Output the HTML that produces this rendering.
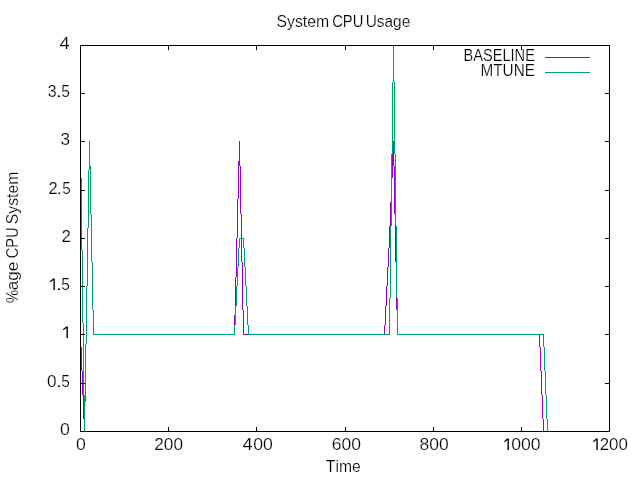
<!DOCTYPE html>
<html><head><meta charset="utf-8"><title>System CPU Usage</title>
<style>
html,body{margin:0;padding:0;background:#fff;overflow:hidden}
svg{display:block}
.t{filter:grayscale(1)}
.g1{fill:#000}
text{font-family:"Liberation Sans",sans-serif;font-size:16px;font-kerning:none;fill:#000;stroke:#fff;stroke-width:0.2px}
</style></head><body>
<svg width="640" height="480" viewBox="0 0 640 480">
<rect x="0" y="0" width="640" height="480" fill="#fff"/>
<g shape-rendering="crispEdges">
<path fill="#9400d3" d="M93 334h142v1h-142zM243 334h142v1h-142zM397 334h143v1h-143zM394 166h1v48h-1zM83 395h1v24h-1zM395 214h1v48h-1zM85 344h1v58h-1zM86 286h1v58h-1zM235 277h1v38h-1zM84 402h1v30h-1zM388 248h1v19h-1zM397 310h1v24h-1zM385 306h1v19h-1zM386 286h1v20h-1zM389 226h1v22h-1zM387 267h1v19h-1zM540 347h1v24h-1zM87 228h1v58h-1zM88 170h1v58h-1zM242 262h1v48h-1zM542 395h1v24h-1zM93 310h1v24h-1zM90 166h1v48h-1zM237 199h1v39h-1zM81 347h1v24h-1zM238 161h1v38h-1zM239 141h1v25h-1zM91 214h1v48h-1zM89 141h1v29h-1zM240 166h1v48h-1zM393 141h1v25h-1zM80 335h1v12h-1zM82 371h1v24h-1zM243 310h1v24h-1zM539 335h1v12h-1zM92 262h1v48h-1zM384 325h1v9h-1zM241 214h1v48h-1zM396 262h1v48h-1zM391 178h1v24h-1zM390 202h1v24h-1zM392 154h1v24h-1zM236 238h1v39h-1zM541 371h1v24h-1zM234 315h1v19h-1zM543 419h1v13h-1z"/>
<path fill="#009e73" d="M93 334h142v1h-142zM248 334h142v1h-142zM397 334h147v1h-147zM239 238h5v1h-5zM246 286h1v20h-1zM81 178h1v72h-1zM393 45h1v37h-1zM85 344h1v58h-1zM86 286h1v58h-1zM84 395h1v37h-1zM396 226h1v72h-1zM82 250h1v73h-1zM392 82h1v72h-1zM397 298h1v36h-1zM391 154h1v72h-1zM87 228h1v58h-1zM88 170h1v58h-1zM390 226h1v72h-1zM394 82h1v72h-1zM90 166h1v48h-1zM93 310h1v24h-1zM544 347h1v24h-1zM83 323h1v72h-1zM91 214h1v48h-1zM239 239h1v9h-1zM89 141h1v29h-1zM248 325h1v9h-1zM389 298h1v36h-1zM395 154h1v72h-1zM546 395h1v24h-1zM243 239h1v9h-1zM236 286h1v20h-1zM92 262h1v48h-1zM245 267h1v19h-1zM238 248h1v19h-1zM237 267h1v19h-1zM80 141h1v37h-1zM545 371h1v24h-1zM543 335h1v12h-1zM247 306h1v19h-1zM235 306h1v19h-1zM547 419h1v13h-1zM244 248h1v19h-1zM234 325h1v9h-1z"/>
<rect x="545" y="57" width="45" height="1" fill="#9400d3"/>
<rect x="545" y="72" width="45" height="1" fill="#009e73"/>
<path fill="#000" d="M80 45h530v1h-530zM80 431h530v1h-530zM80 45h1v387h-1zM609 45h1v387h-1zM80 431h5v1h-5zM605 431h5v1h-5zM80 383h5v1h-5zM605 383h5v1h-5zM80 334h5v1h-5zM605 334h5v1h-5zM80 286h5v1h-5zM605 286h5v1h-5zM80 238h5v1h-5zM605 238h5v1h-5zM80 190h5v1h-5zM605 190h5v1h-5zM80 141h5v1h-5zM605 141h5v1h-5zM80 93h5v1h-5zM605 93h5v1h-5zM80 45h5v1h-5zM605 45h5v1h-5zM80 427h1v5h-1zM80 45h1v5h-1zM168 427h1v5h-1zM168 45h1v5h-1zM256 427h1v5h-1zM256 45h1v5h-1zM345 427h1v5h-1zM345 45h1v5h-1zM433 427h1v5h-1zM433 45h1v5h-1zM521 427h1v5h-1zM521 45h1v5h-1zM609 427h1v5h-1zM609 45h1v5h-1z"/>
</g>
<g class="t">
<text x="276.53" y="26.60" textLength="52.61" lengthAdjust="spacingAndGlyphs">System</text>
<text x="332.15" y="26.60" textLength="31.19" lengthAdjust="spacingAndGlyphs">CPU</text>
<text x="365.71" y="26.60" textLength="44.57" lengthAdjust="spacingAndGlyphs">Usage</text>
<text x="463.55" y="60.60" textLength="71.32" lengthAdjust="spacingAndGlyphs">BASELINE</text>
<text x="480.49" y="75.60" textLength="54.41" lengthAdjust="spacingAndGlyphs">MTUNE</text>
<text x="325.85" y="471.50" textLength="34.85" lengthAdjust="spacingAndGlyphs">Time</text>
<text transform="translate(18.00 302.50) rotate(-90)" x="-0.52" y="0" textLength="13.05" lengthAdjust="spacingAndGlyphs">%</text>
<text transform="translate(18.00 289.60) rotate(-90)" x="-0.73" y="0" textLength="28.59" lengthAdjust="spacingAndGlyphs">age</text>
<text transform="translate(18.00 257.50) rotate(-90)" x="-0.74" y="0" textLength="30.87" lengthAdjust="spacingAndGlyphs">CPU</text>
<text transform="translate(18.00 223.50) rotate(-90)" x="-0.71" y="0" textLength="52.45" lengthAdjust="spacingAndGlyphs">System</text>
<text x="76.06" y="450.00" textLength="9.83" lengthAdjust="spacingAndGlyphs">0</text>
<text x="154.34" y="450.00" textLength="28.58" lengthAdjust="spacingAndGlyphs">200</text>
<text x="242.48" y="450.00" textLength="10.15" lengthAdjust="spacingAndGlyphs">4</text>
<text x="253.31" y="450.00" textLength="19.63" lengthAdjust="spacingAndGlyphs">00</text>
<text x="331.71" y="450.00" textLength="29.22" lengthAdjust="spacingAndGlyphs">600</text>
<text x="419.64" y="450.00" textLength="29.14" lengthAdjust="spacingAndGlyphs">800</text>
<path class="g1" d="M507.25 438.40 L508.90 438.40 L508.90 450.00 L507.50 450.00 L507.50 440.00 L504.65 442.30 L504.10 441.25Z"/>
<text x="511.21" y="450.00" textLength="29.38" lengthAdjust="spacingAndGlyphs">000</text>
<path class="g1" d="M596.10 438.40 L597.75 438.40 L597.75 450.00 L596.35 450.00 L596.35 440.00 L593.55 442.30 L593.00 441.25Z"/>
<text x="599.75" y="450.00" textLength="28.11" lengthAdjust="spacingAndGlyphs">200</text>
<text x="60.11" y="435.00" textLength="9.83" lengthAdjust="spacingAndGlyphs">0</text>
<text x="47.13" y="387.00" textLength="9.54" lengthAdjust="spacingAndGlyphs">0</text>
<text x="55.69" y="387.00" textLength="6.42" lengthAdjust="spacingAndGlyphs">.</text>
<text x="61.28" y="387.00" textLength="8.62" lengthAdjust="spacingAndGlyphs">5</text>
<path class="g1" d="M66.25 326.40 L67.90 326.40 L67.90 338.00 L66.50 338.00 L66.50 328.00 L63.45 330.30 L62.90 329.25Z"/>
<path class="g1" d="M53.20 278.40 L54.85 278.40 L54.85 290.00 L53.45 290.00 L53.45 280.00 L50.45 282.30 L49.90 281.25Z"/>
<text x="55.69" y="290.00" textLength="6.42" lengthAdjust="spacingAndGlyphs">.</text>
<text x="61.28" y="290.00" textLength="8.62" lengthAdjust="spacingAndGlyphs">5</text>
<text x="61.55" y="242.00" textLength="9.40" lengthAdjust="spacingAndGlyphs">2</text>
<text x="48.57" y="194.00" textLength="9.16" lengthAdjust="spacingAndGlyphs">2</text>
<text x="56.18" y="194.00" textLength="5.84" lengthAdjust="spacingAndGlyphs">.</text>
<text x="62.19" y="194.00" textLength="8.45" lengthAdjust="spacingAndGlyphs">5</text>
<text x="60.60" y="145.00" textLength="9.56" lengthAdjust="spacingAndGlyphs">3</text>
<text x="47.80" y="97.00" textLength="8.80" lengthAdjust="spacingAndGlyphs">3</text>
<text x="55.69" y="97.00" textLength="6.42" lengthAdjust="spacingAndGlyphs">.</text>
<text x="61.28" y="97.00" textLength="8.62" lengthAdjust="spacingAndGlyphs">5</text>
<text x="59.58" y="49.00" textLength="10.21" lengthAdjust="spacingAndGlyphs">4</text>
</g>
</svg>
</body></html>
